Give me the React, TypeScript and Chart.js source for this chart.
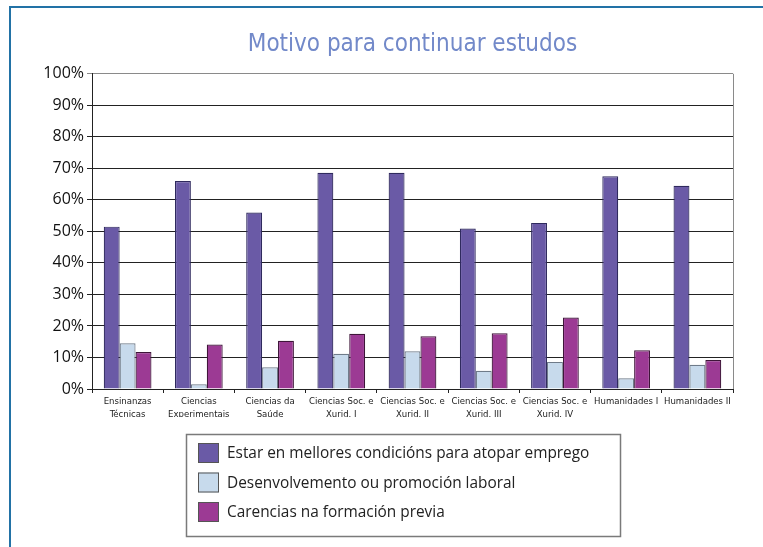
import React, { useEffect, useRef } from 'react';
import { Chart, registerables } from 'chart.js';

Chart.register(...registerables);

const categories: string[][] = [
  ['Ensinanzas', 'Técnicas'],
  ['Ciencias', 'Experimentais'],
  ['Ciencias da', 'Saúde'],
  ['Ciencias Soc. e', 'Xurid. I'],
  ['Ciencias Soc. e', 'Xurid. II'],
  ['Ciencias Soc. e', 'Xurid. III'],
  ['Ciencias Soc. e', 'Xurid. IV'],
  ['Humanidades I'],
  ['Humanidades II'],
];

const seriesNames = [
  'Estar en mellores condicións para atopar emprego',
  'Desenvolvemento ou promoción laboral',
  'Carencias na formación previa',
];

const empregoValues = [51.5, 66.0, 56.0, 68.6, 68.6, 50.9, 52.7, 67.5, 64.5];
const promocionValues = [14.5, 1.5, 6.9, 11.2, 12.0, 5.8, 8.6, 3.4, 7.7];
const carenciasValues = [11.7, 14.1, 15.3, 17.5, 16.7, 17.7, 22.7, 12.3, 9.2];

const yTickValues = [0, 10, 20, 30, 40, 50, 60, 70, 80, 90, 100];

const titleText = 'Motivo para continuar estudos';

const NARROW = '"Liberation Sans Narrow", "DejaVu Sans Condensed", "Arial Narrow", sans-serif';
const SANS = '"Open Sans", "Noto Sans", sans-serif';

const fills = ['#6A5AA6', '#C7DAEC', '#9C3A94'];
const borders = ['#2F2A5E', '#6F7B89', '#3E1539'];

const framePlugin = {
  id: 'frameAndLegend',
  beforeDraw(chart: any) {
    const ctx = chart.ctx;
    ctx.save();
    ctx.fillStyle = '#ffffff';
    ctx.fillRect(0, 0, chart.width, chart.height);
    ctx.strokeStyle = '#2272A6';
    ctx.lineWidth = 2;
    ctx.beginPath();
    ctx.moveTo(10, chart.height);
    ctx.lineTo(10, 7);
    ctx.lineTo(chart.width, 7);
    ctx.stroke();
    ctx.restore();
  },
  afterDraw(chart: any) {
    const ctx = chart.ctx;
    const area = chart.chartArea;
    ctx.save();
    // right border of plot area
    ctx.strokeStyle = '#8a8a8a';
    ctx.lineWidth = 1;
    ctx.beginPath();
    ctx.moveTo(Math.round(area.right) + 0.5, area.top);
    ctx.lineTo(Math.round(area.right) + 0.5, area.bottom);
    ctx.stroke();

    // legend box
    const bx = 186.5, by = 434.5, bw = 434, bh = 102;
    ctx.strokeStyle = '#7a7a7a';
    ctx.lineWidth = 1.5;
    ctx.strokeRect(bx, by, bw, bh);
    ctx.font = '15.4px ' + SANS;
    ctx.textBaseline = 'middle';
    ctx.textAlign = 'left';
    chart.data.datasets.forEach((ds: any, i: number) => {
      const cy = 453 + i * 29.5;
      ctx.fillStyle = ds.backgroundColor;
      ctx.fillRect(198, cy - 10, 21, 20);
      ctx.strokeStyle = '#555';
      ctx.lineWidth = 1;
      ctx.strokeRect(198.5, cy - 9.5, 20, 19);
      ctx.fillStyle = '#222';
      ctx.fillText(ds.label, 227, cy + 1);
    });
    ctx.restore();
  },
};

export default function App() {
  const ref = useRef<HTMLCanvasElement | null>(null);

  useEffect(() => {
    if (!ref.current) return;
    const datasets = [empregoValues, promocionValues, carenciasValues].map((vals, i) => ({
      label: seriesNames[i],
      data: vals,
      backgroundColor: fills[i],
      borderColor: borders[i],
      borderWidth: 1.2,
      borderSkipped: 'bottom' as const,
      categoryPercentage: 0.67,
      barPercentage: 1.0,
    }));
    const chart = new Chart(ref.current, {
      type: 'bar',
      data: { labels: categories, datasets },
      plugins: [framePlugin],
      options: {
        responsive: false,
        animation: false,
        devicePixelRatio: 1,
        layout: { padding: { left: 0, right: 30, top: 0, bottom: 130 } },
        plugins: {
          legend: { display: false },
          tooltip: { enabled: false },
          title: {
            display: true,
            text: titleText,
            color: '#7289C9',
            fullSize: false,
            font: { family: NARROW, size: 24, weight: 'normal', lineHeight: 1.2 },
            padding: { top: 30, bottom: 15 },
          },
        },
        scales: {
          x: {
            grid: {
              offset: true,
              drawOnChartArea: false,
              drawTicks: true,
              tickLength: 4,
              color: '#222',
            },
            border: { display: true, color: '#222', width: 1 },
            ticks: {
              color: '#222',
              padding: 2,
              maxRotation: 0,
              autoSkip: false,
              font: { family: NARROW, size: 9.5, lineHeight: 1.35 },
            },
            afterFit(scale: any) {
              scale.height = 28;
            },
          },
          y: {
            min: 0,
            max: 100,
            afterBuildTicks(scale: any) {
              scale.ticks = yTickValues.map((v) => ({ value: v }));
            },
            grid: {
              color: (c: any) => (c.tick && c.tick.value === 100 ? '#8a8a8a' : '#222'),
              lineWidth: 1,
              tickLength: 5,
            },
            border: { display: true, color: '#222', width: 1 },
            ticks: {
              color: '#111',
              padding: 3,
              font: { family: SANS, size: 16 },
              callback: (v: any) => v + '%',
            },
            afterFit(scale: any) {
              scale.width = 92;
            },
          },
        },
      },
    });
    return () => chart.destroy();
  }, []);

  return (
    <div style={{ position: 'absolute', left: 0, top: 0, width: 763, height: 547 }}>
      <canvas ref={ref} width={763} height={547} style={{ display: 'block' }} />
    </div>
  );
}
